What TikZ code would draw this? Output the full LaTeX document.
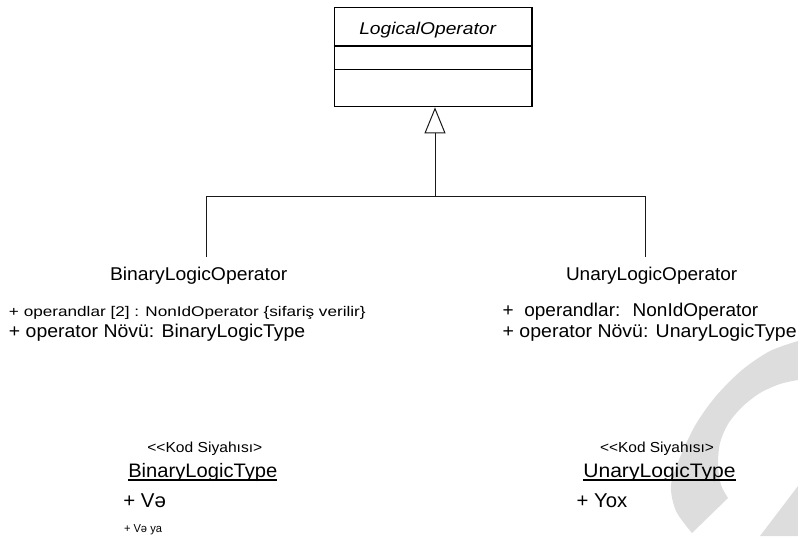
\documentclass[tikz,border=0pt]{standalone}
\usepackage{fontspec}
\setmainfont{Liberation Sans}
\usepackage{graphicx}
\usetikzlibrary{arrows.meta}

% set #3 at size #2, stretched horizontally to width #1
\newcommand{\fitto}[3]{\resizebox{#1pt}{\height}{\fontsize{#2}{#2}\selectfont #3}}
\newcommand{\stereo}{<\kern0pt<Kod Siyahısı>}

\definecolor{markgray}{RGB}{221,221,221}
\definecolor{linegray}{RGB}{25,25,25}

\begin{document}
\begin{tikzpicture}[x=1pt,y=-1pt,
  txt/.style={inner sep=0pt, outer sep=0pt, anchor=base west, text=black},
  conn/.style={draw=linegray, line width=1pt},
  classbox/.style={draw=black, line width=1.3pt, minimum width=197.7pt, minimum height=99.4pt, inner sep=0pt}]
\useasboundingbox (0,0) rectangle (798,536);

% background mark in the lower right corner
\fill[markgray] plot[smooth] coordinates {(798,341) (770,351) (742,370) (716,396) (696,424) (681,455) (671,485) (676,511) (692,533)}
  -- (728,498)
  -- plot[smooth] coordinates {(728,498) (721,485) (718,465) (720,443) (728,424) (742,407) (760,393) (780,384) (798,380)} -- cycle;
\fill[markgray] (798,486) -- (798,536) -- (760,536) -- cycle;

% abstract class
\node[classbox] (lo) at (433.2,57) {};
\draw[line width=1.3pt] (lo.west |- 0,46) -- (lo.east |- 0,46);
\draw[line width=1.3pt] (lo.west |- 0,69.3) -- (lo.east |- 0,69.3);
\node[txt] (lotitle) at (359.3,34.3) {\fitto{136.7}{17}{\itshape LogicalOperator}};

% generalisation tree
\coordinate (jn) at (435,196);
\coordinate (bdrop) at (206,256.7);
\coordinate (udrop) at (645.7,256.7);
\draw[conn] (bdrop) -- (bdrop |- jn) -- (udrop |- jn) -- (udrop);
\draw[conn, -{Triangle[open, width=21pt, length=26pt, line width=1pt]}] (jn) -- (jn |- lo.south);

% subclasses
\node[txt] (bin) at (110,280) {\fitto{177.3}{18.5}{BinaryLogicOperator}};
\node[txt] (una) at (566,280) {\fitto{171.3}{18.5}{UnaryLogicOperator}};

\node[txt] (bina) at (9,316.7) {\fitto{356.7}{14}{+ operandlar [2] : NonIdOperator \{sifariş verilir\}}};
\node[txt] (binb) at (9,337.3) {\fitto{296.3}{18.5}{+ operator Növü: BinaryLogicType}};
\node[txt] (unaa) at (502.7,316.7) {\fitto{255.6}{18.5}{+~ operandlar:~ NonIdOperator}};
\node[txt] (unab) at (502.7,337.3) {\fitto{294}{18.5}{+ operator Növü: UnaryLogicType}};

% enumerations
\node[txt] (bst) at (147.3,452.7) {\fitto{115}{14.5}{\stereo}};
\node[txt] (blt) at (128.3,477.3) {\fitto{149}{19.5}{BinaryLogicType}};
\draw[line width=1.1pt] ([yshift=-2.7pt]blt.base west) -- ([yshift=-2.7pt]blt.base east);
\node[txt] (bv1) at (123.3,507.3) {\fitto{42.7}{20}{+ Və}};
\node[txt] (bv2) at (124,532) {\fitto{38}{11.5}{+ Və ya}};

\node[txt] (ust) at (600,452.7) {\fitto{114}{14.5}{\stereo}};
\node[txt] (ult) at (583.3,477.3) {\fitto{152.4}{19.5}{UnaryLogicType}};
\draw[line width=1.1pt] ([yshift=-2.7pt]ult.base west) -- ([yshift=-2.7pt]ult.base east);
\node[txt] (uv1) at (576.7,507.7) {\fitto{50.6}{20}{+ Yox}};
\end{tikzpicture}
\end{document}
